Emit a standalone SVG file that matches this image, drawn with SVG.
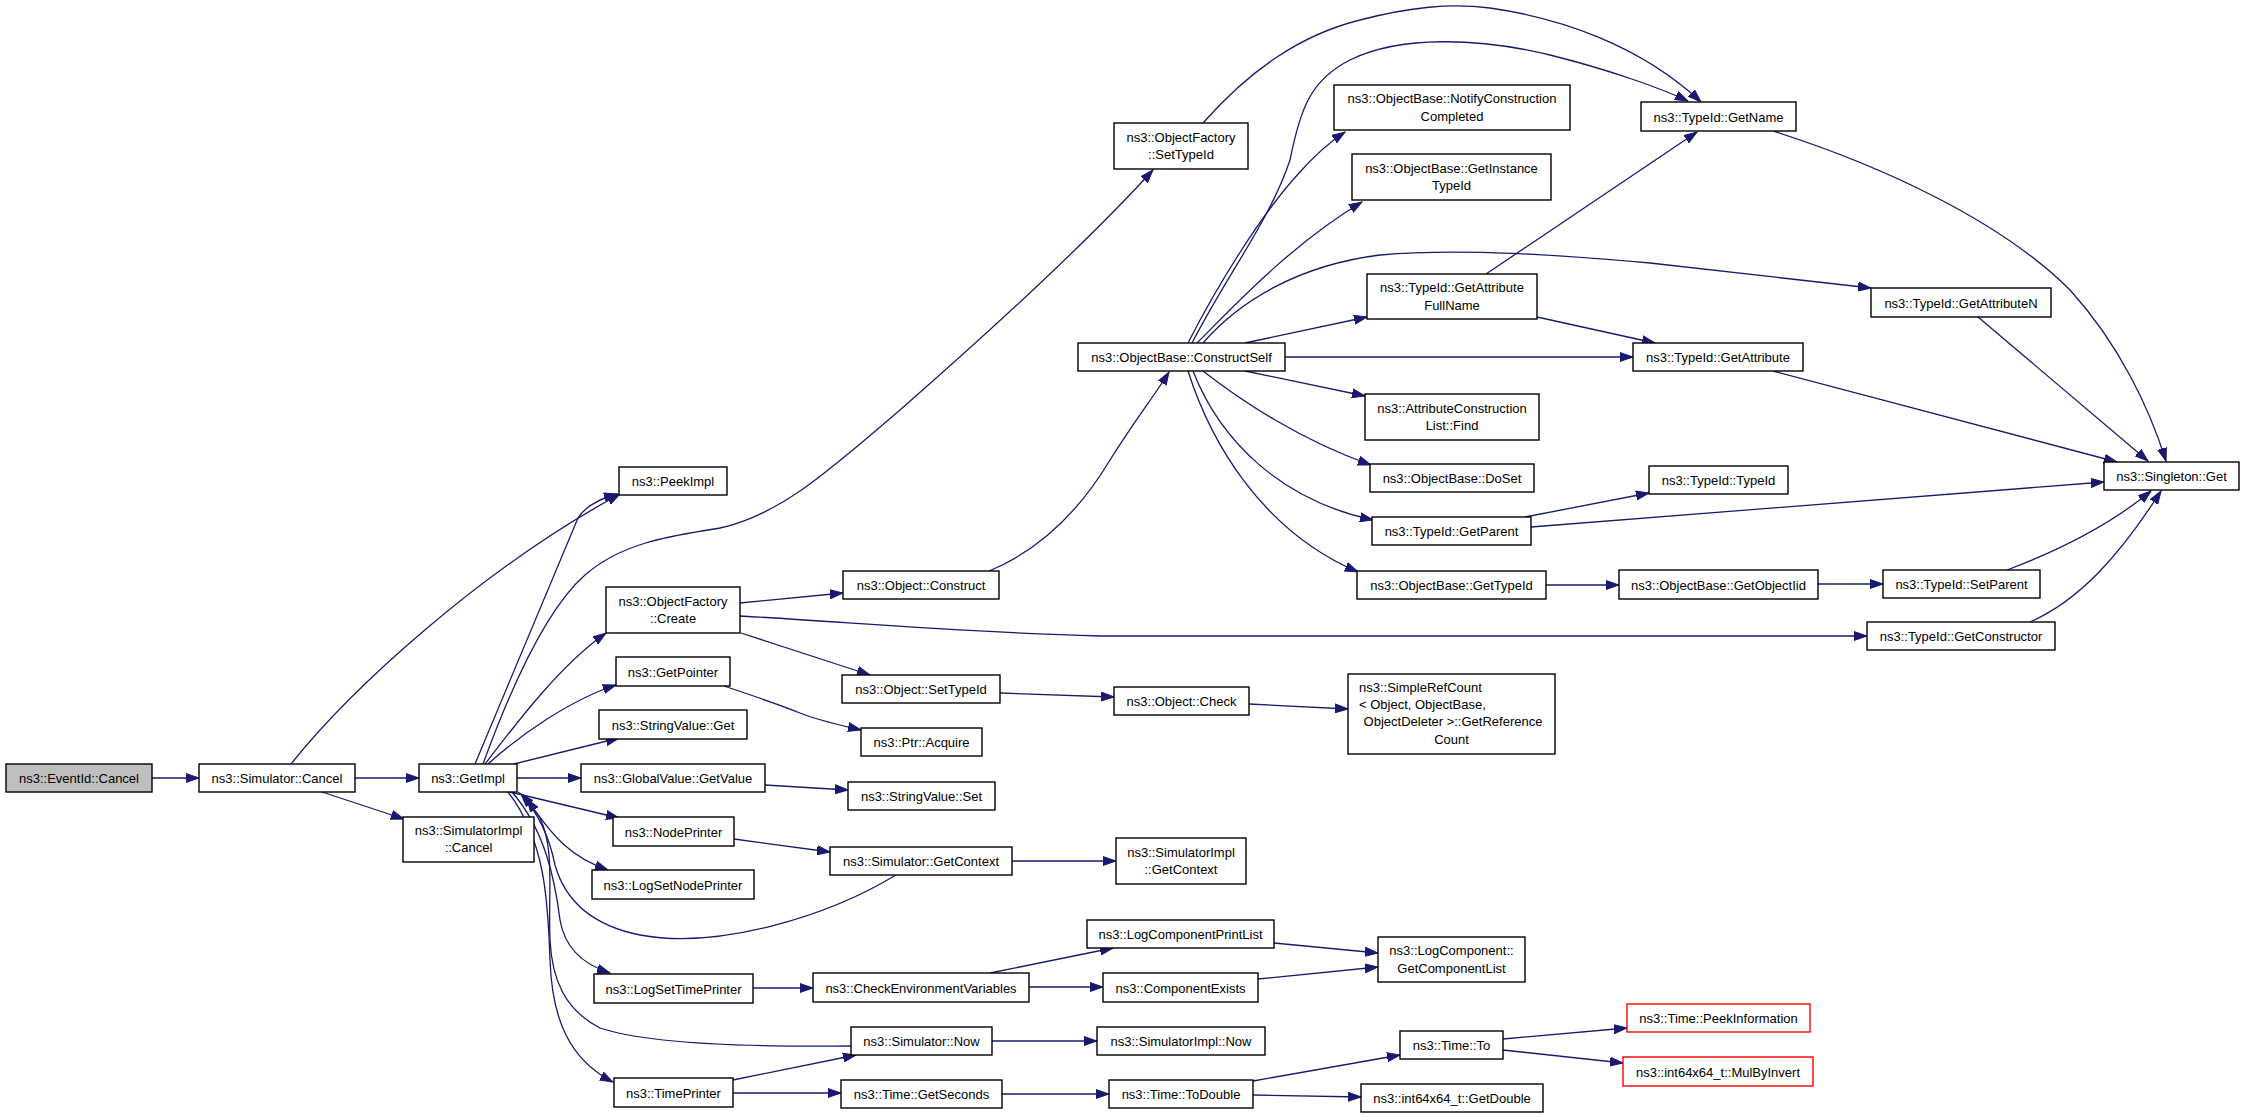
<svg xmlns="http://www.w3.org/2000/svg" width="2245" height="1118" viewBox="0 0 2245 1118">
<style>
.n rect{fill:#fff;stroke:#000;stroke-width:1.4}
.n.root rect{fill:#bfbfbf}
.n.red rect{stroke:#ff0000}
text{font-family:"Liberation Sans",Arial,Helvetica,sans-serif;font-size:13px;text-anchor:middle;fill:#000}
text.l{text-anchor:start}
#edges path{fill:none;stroke:#191970;stroke-width:1.3;marker-end:url(#a)}
</style>
<defs>
<marker id="a" markerUnits="userSpaceOnUse" markerWidth="14" markerHeight="10" refX="13" refY="5" orient="auto"><path d="M0,0.5L13,5L0,9.5z" fill="#191970" stroke="#191970" stroke-width="1"/></marker>
</defs>
<rect width="2245" height="1118" fill="#fff"/>
<g id="edges">
<path d="M152,778L199,778"/>
<path d="M355,778L419,778"/>
<path d="M291,764C350,690 480,570 620,494"/>
<path d="M322,792L404,819"/>
<path d="M475,764L578,518Q588,502 617,494"/>
<path d="M483,764C510,690 545,610 585,575C625,540 680,535 720,528C780,515 830,470 900,410C980,340 1080,250 1153,170"/>
<path d="M485,764C515,725 560,665 606,633"/>
<path d="M488,764C520,735 570,700 616,685"/>
<path d="M514,764L619,738"/>
<path d="M517,778L581,778"/>
<path d="M510,792L619,818"/>
<path d="M518,792C540,808 550,850 608,870"/>
<path d="M512,792C545,830 555,880 560,920C565,950 585,965 610,973"/>
<path d="M508,792C545,840 548,900 550,960C552,1020 570,1060 613,1082"/>
<path d="M896,875C830,915 720,950 640,935C590,925 565,900 555,865C550,840 540,815 521,794"/>
<path d="M851,1046C760,1047 650,1045 600,1028C565,1010 552,980 550,940C548,890 555,850 540,818L527,799"/>
<path d="M740,603L843,593"/>
<path d="M741,633L870,675"/>
<path d="M740,616C850,622 950,632 1100,636L1867,636"/>
<path d="M724,686C760,698 780,705 800,713C820,721 840,725 861,730"/>
<path d="M765,785L848,790"/>
<path d="M734,839L830,852"/>
<path d="M1012,861L1116,861"/>
<path d="M753,988L813,988"/>
<path d="M990,973L1113,948"/>
<path d="M1029,987L1103,987"/>
<path d="M1274,943L1378,953"/>
<path d="M1258,979L1378,967"/>
<path d="M733,1080L856,1055"/>
<path d="M733,1093L841,1093"/>
<path d="M992,1041L1097,1041"/>
<path d="M1002,1094L1109,1094"/>
<path d="M1253,1081L1400,1055"/>
<path d="M1253,1095L1361,1097"/>
<path d="M1503,1039L1627,1028"/>
<path d="M1503,1050L1623,1063"/>
<path d="M989,571C1040,550 1080,510 1110,460C1135,420 1155,395 1169,372"/>
<path d="M1000,693L1114,697"/>
<path d="M1249,704L1348,709"/>
<path d="M1188,343C1215,290 1260,215 1300,172C1315,155 1330,142 1345,132"/>
<path d="M1197,343C1230,310 1290,245 1362,202"/>
<path d="M1192,343C1230,270 1270,220 1290,160C1300,110 1310,80 1350,60C1400,35 1480,38 1550,55C1610,70 1660,88 1688,101"/>
<path d="M1203,123C1250,70 1300,35 1360,20C1410,7 1450,3 1490,8C1560,18 1640,45 1701,102"/>
<path d="M1203,343C1240,300 1300,265 1380,255C1460,248 1560,255 1650,263L1871,288"/>
<path d="M1245,343L1367,317"/>
<path d="M1285,357L1633,357"/>
<path d="M1245,371L1365,396"/>
<path d="M1203,371C1240,400 1300,440 1371,465"/>
<path d="M1193,371C1220,440 1280,500 1373,520"/>
<path d="M1188,371C1210,440 1260,530 1358,572"/>
<path d="M1486,274L1697,132"/>
<path d="M1537,317L1655,343"/>
<path d="M1773,131C1880,165 2000,220 2070,290C2120,345 2150,410 2166,461"/>
<path d="M1978,317L2148,461"/>
<path d="M1773,371L2117,462"/>
<path d="M1525,517L1649,493"/>
<path d="M1531,527L2104,482"/>
<path d="M1546,585L1619,585"/>
<path d="M1818,584L1883,584"/>
<path d="M2007,570C2060,550 2110,525 2151,491"/>
<path d="M2030,622C2080,600 2120,555 2161,491"/>
</g>
<g id="n1" class="n root"><rect x="6" y="764" width="146" height="28"/><text x="79" y="783">ns3::EventId::Cancel</text></g>
<g id="n2" class="n"><rect x="199" y="764" width="156" height="28"/><text x="277" y="783">ns3::Simulator::Cancel</text></g>
<g id="n3" class="n"><rect x="419" y="764" width="98" height="28"/><text x="468" y="783">ns3::GetImpl</text></g>
<g id="n4" class="n"><rect x="403" y="817" width="131" height="45"/><text x="468.5" y="835">ns3::SimulatorImpl</text><text x="468.5" y="852">::Cancel</text></g>
<g id="n5" class="n"><rect x="619" y="467" width="108" height="28"/><text x="673" y="486">ns3::PeekImpl</text></g>
<g id="n6" class="n"><rect x="606" y="587" width="134" height="46"/><text x="673" y="605.5">ns3::ObjectFactory</text><text x="673" y="623">::Create</text></g>
<g id="n7" class="n"><rect x="616" y="657" width="114" height="29"/><text x="673" y="676.5">ns3::GetPointer</text></g>
<g id="n8" class="n"><rect x="599" y="710" width="148" height="29"/><text x="673" y="729.5">ns3::StringValue::Get</text></g>
<g id="n9" class="n"><rect x="581" y="764" width="184" height="28"/><text x="673" y="783">ns3::GlobalValue::GetValue</text></g>
<g id="n10" class="n"><rect x="613" y="817" width="121" height="29"/><text x="673.5" y="836.5">ns3::NodePrinter</text></g>
<g id="n11" class="n"><rect x="592" y="870" width="162" height="29"/><text x="673" y="889.5">ns3::LogSetNodePrinter</text></g>
<g id="n12" class="n"><rect x="594" y="974" width="159" height="29"/><text x="673.5" y="993.5">ns3::LogSetTimePrinter</text></g>
<g id="n13" class="n"><rect x="614" y="1078" width="119" height="29"/><text x="673.5" y="1097.5">ns3::TimePrinter</text></g>
<g id="n14" class="n"><rect x="1114" y="123" width="134" height="46"/><text x="1181" y="141.5">ns3::ObjectFactory</text><text x="1181" y="159">::SetTypeId</text></g>
<g id="n15" class="n"><rect x="843" y="571" width="156" height="28"/><text x="921" y="590">ns3::Object::Construct</text></g>
<g id="n16" class="n"><rect x="842" y="675" width="158" height="28"/><text x="921" y="694">ns3::Object::SetTypeId</text></g>
<g id="n17" class="n"><rect x="861" y="728" width="121" height="28"/><text x="921.5" y="747">ns3::Ptr::Acquire</text></g>
<g id="n18" class="n"><rect x="848" y="782" width="147" height="28"/><text x="921.5" y="801">ns3::StringValue::Set</text></g>
<g id="n19" class="n"><rect x="830" y="847" width="182" height="28"/><text x="921" y="866">ns3::Simulator::GetContext</text></g>
<g id="n20" class="n"><rect x="813" y="973" width="216" height="29"/><text x="921" y="992.5">ns3::CheckEnvironmentVariables</text></g>
<g id="n21" class="n"><rect x="851" y="1027" width="141" height="28"/><text x="921.5" y="1046">ns3::Simulator::Now</text></g>
<g id="n22" class="n"><rect x="841" y="1080" width="161" height="28"/><text x="921.5" y="1099">ns3::Time::GetSeconds</text></g>
<g id="n23" class="n"><rect x="1078" y="343" width="207" height="28"/><text x="1181.5" y="362">ns3::ObjectBase::ConstructSelf</text></g>
<g id="n24" class="n"><rect x="1114" y="687" width="135" height="28"/><text x="1181.5" y="706">ns3::Object::Check</text></g>
<g id="n25" class="n"><rect x="1116" y="838" width="130" height="46"/><text x="1181" y="856.5">ns3::SimulatorImpl</text><text x="1181" y="874">::GetContext</text></g>
<g id="n26" class="n"><rect x="1087" y="920" width="187" height="28"/><text x="1180.5" y="939">ns3::LogComponentPrintList</text></g>
<g id="n27" class="n"><rect x="1103" y="973" width="155" height="29"/><text x="1180.5" y="992.5">ns3::ComponentExists</text></g>
<g id="n28" class="n"><rect x="1097" y="1027" width="168" height="28"/><text x="1181" y="1046">ns3::SimulatorImpl::Now</text></g>
<g id="n29" class="n"><rect x="1109" y="1080" width="144" height="28"/><text x="1181" y="1099">ns3::Time::ToDouble</text></g>
<g id="n30" class="n"><rect x="1334" y="85" width="236" height="45"/><text x="1452" y="103">ns3::ObjectBase::NotifyConstruction</text><text x="1452" y="120.5">Completed</text></g>
<g id="n31" class="n"><rect x="1352" y="154" width="199" height="46"/><text x="1451.5" y="172.5">ns3::ObjectBase::GetInstance</text><text x="1451.5" y="190">TypeId</text></g>
<g id="n32" class="n"><rect x="1367" y="274" width="170" height="45"/><text x="1452" y="292">ns3::TypeId::GetAttribute</text><text x="1452" y="309.5">FullName</text></g>
<g id="n33" class="n"><rect x="1365" y="394" width="174" height="46"/><text x="1452" y="412.5">ns3::AttributeConstruction</text><text x="1452" y="430">List::Find</text></g>
<g id="n34" class="n"><rect x="1370" y="464" width="164" height="28"/><text x="1452" y="483">ns3::ObjectBase::DoSet</text></g>
<g id="n35" class="n"><rect x="1372" y="517" width="159" height="28"/><text x="1451.5" y="536">ns3::TypeId::GetParent</text></g>
<g id="n36" class="n"><rect x="1357" y="571" width="189" height="28"/><text x="1451.5" y="590">ns3::ObjectBase::GetTypeId</text></g>
<g id="n37" class="n"><rect x="1348" y="674" width="207" height="80"/><text class="l" x="1359" y="692">ns3::SimpleRefCount</text><text class="l" x="1359" y="709">&lt; Object, ObjectBase,</text><text x="1453" y="726">ObjectDeleter &gt;::GetReference</text><text x="1451.5" y="744">Count</text></g>
<g id="n38" class="n"><rect x="1378" y="937" width="147" height="45"/><text x="1451.5" y="955">ns3::LogComponent::</text><text x="1451.5" y="972.5">GetComponentList</text></g>
<g id="n39" class="n"><rect x="1400" y="1031" width="103" height="28"/><text x="1451.5" y="1050">ns3::Time::To</text></g>
<g id="n40" class="n"><rect x="1361" y="1084" width="182" height="28"/><text x="1452" y="1103">ns3::int64x64_t::GetDouble</text></g>
<g id="n41" class="n"><rect x="1641" y="102" width="155" height="29"/><text x="1718.5" y="121.5">ns3::TypeId::GetName</text></g>
<g id="n42" class="n"><rect x="1633" y="343" width="170" height="28"/><text x="1718" y="362">ns3::TypeId::GetAttribute</text></g>
<g id="n43" class="n"><rect x="1649" y="466" width="139" height="28"/><text x="1718.5" y="485">ns3::TypeId::TypeId</text></g>
<g id="n44" class="n"><rect x="1619" y="570" width="199" height="29"/><text x="1718.5" y="589.5">ns3::ObjectBase::GetObjectIid</text></g>
<g id="n45" class="n"><rect x="1871" y="288" width="180" height="29"/><text x="1961" y="307.5">ns3::TypeId::GetAttributeN</text></g>
<g id="n46" class="n"><rect x="1883" y="570" width="157" height="28"/><text x="1961.5" y="589">ns3::TypeId::SetParent</text></g>
<g id="n47" class="n"><rect x="1867" y="622" width="188" height="28"/><text x="1961" y="641">ns3::TypeId::GetConstructor</text></g>
<g id="n48" class="n"><rect x="2104" y="462" width="135" height="28"/><text x="2171.5" y="481">ns3::Singleton::Get</text></g>
<g id="n49" class="n red"><rect x="1627" y="1004" width="183" height="28"/><text x="1718.5" y="1023">ns3::Time::PeekInformation</text></g>
<g id="n50" class="n red"><rect x="1623" y="1057" width="190" height="29"/><text x="1718" y="1076.5">ns3::int64x64_t::MulByInvert</text></g>
</svg>
